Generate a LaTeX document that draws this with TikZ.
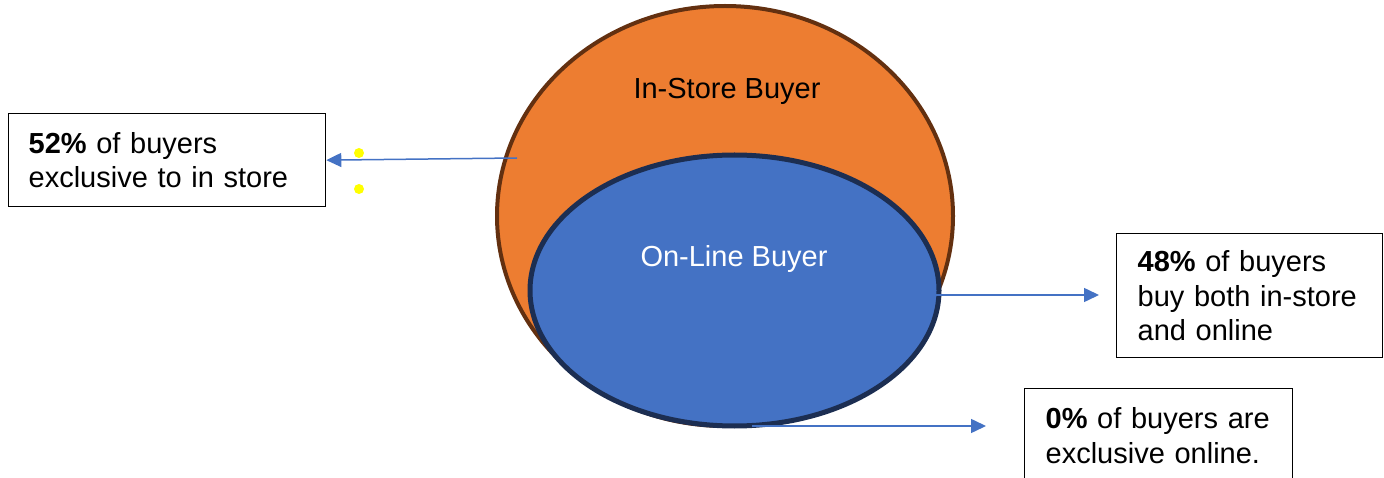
\documentclass[tikz,border=0pt]{standalone}
\usepackage{fontspec}
\setmainfont{Liberation Sans}
\usetikzlibrary{arrows.meta,shapes.geometric}
\definecolor{orangefill}{HTML}{ED7D31}
\definecolor{orangeline}{HTML}{633010}
\definecolor{bluefill}{HTML}{4472C4}
\definecolor{blueline}{HTML}{1C2E52}
\definecolor{arrowblue}{HTML}{4472C4}
\definecolor{dotyellow}{HTML}{FFFF00}
\tikzset{
  bigtext/.style={font=\fontsize{29}{34.5}\selectfont},
  infobox/.style={draw=black, line width=1.3pt, fill=white, bigtext, align=left, inner xsep=20pt, anchor=north west},
  pointer/.style={draw=arrowblue, line width=1.5pt, -{Triangle[length=15pt,width=14pt]}},
  yellowdot/.style={circle, fill=dotyellow, inner sep=0pt, minimum size=10pt},
}
\begin{document}
\begin{tikzpicture}[x=1pt,y=-1pt]
\useasboundingbox (0,0) rectangle (1384,478);
\clip (0,0) rectangle (1384,478);
% ellipses
\node[ellipse, draw=orangeline, line width=4pt, fill=orangefill, minimum width=456pt, minimum height=420pt, inner sep=0pt] (instore) at (725,216) {};
\node[ellipse, draw=blueline, line width=5pt, fill=bluefill, minimum width=409pt, minimum height=271pt, inner sep=0pt] (online) at (734.5,290.5) {};
\node[bigtext, text=black] (instorelabel) at (727,91) {In-Store Buyer};
\node[bigtext, text=white] (onlinelabel) at (734,259) {On-Line Buyer};
% boxes
\node[infobox, text width=277pt, minimum height=93pt] (box1) at (8,113) {\textbf{52\%} of buyers\\exclusive to in store};
\node[infobox, text width=224pt, minimum height=124pt, inner xsep=21pt] (box2) at (1116,233) {\textbf{48\%} of buyers\\buy both in-store\\and online};
\node[infobox, text width=226pt, inner xsep=21pt, inner ysep=19pt] (box3) at (1024,388) {\textbf{0\%} of buyers are\\exclusive online.};
% yellow dots
\node[yellowdot] (dot1) at (359,153) {};
\node[yellowdot] (dot2) at (359,189) {};
% connectors
\coordinate (s1) at (517,158);
\coordinate (s2) at (862,295);
\coordinate (e2) at (1099,295);
\coordinate (s3) at (752,426);
\coordinate (e3) at (986,426);
\draw[pointer] (s1) -- (box1.east);
\draw[pointer] (s2) -- (e2);
\draw[pointer] (s3) -- (e3);
\end{tikzpicture}
\end{document}
